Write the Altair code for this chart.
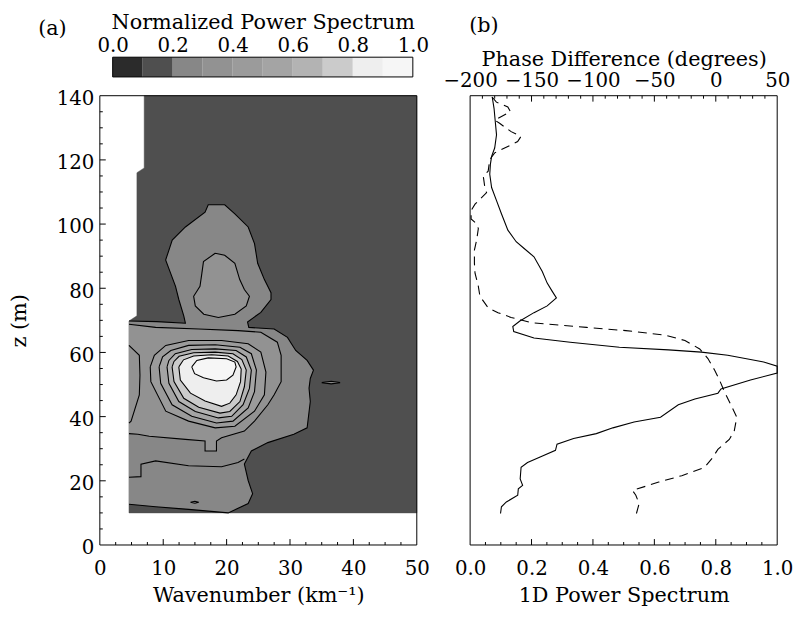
import altair as alt
import pandas as pd

FONT = "DejaVu Serif"
LFS = 20
TFS = 21
W_A, W_B, H, H_CB = 321, 311, 455, 20

# ---------------- colour bar ----------------
cb_lo = [0.0, 0.1, 0.2, 0.3, 0.4, 0.5, 0.6, 0.7, 0.8, 0.9]
cb_hi = [0.1, 0.2, 0.3, 0.4, 0.5, 0.6, 0.7, 0.8, 0.9, 1.0]
cb_grey = ["#2b2b2b", "#4f4f4f", "#878787", "#929292", "#9b9b9b",
           "#a4a4a4", "#b3b3b3", "#cbcbcb", "#eeeeee", "#f6f6f6"]
cb_ticks = [0.0, 0.2, 0.4, 0.6, 0.8, 1.0]

# ---------------- panel (a): contour regions (wavenumber k, height z) ----------------
dom_k = [7.0, 50.0, 50.0, 4.6, 4.6, 5.85, 5.85, 7.0]
dom_z = [140.0, 140.0, 10.0, 10.0, 69.8, 71.4, 116.0, 117.5]

c20_k = [4.6, 9.0, 13.5, 13.24, 12.46, 11.94, 11.16, 10.38, 10.9, 11.42, 13.5, 16.6, 17.1, 19.7,
         21.3, 23.4, 24.4, 24.9, 25.96, 27.0, 27.0, 25.4, 23.3, 23.5, 27.5, 29.6, 30.9, 32.7, 33.7,
         33.2, 33.0, 33.2, 32.7, 30.6, 26.5, 23.9, 22.8, 23.4, 24.1, 23.4, 20.25, 14.0, 8.8, 4.6]
c20_z = [69.8, 69.6, 69.1, 71.4, 76.5, 80.6, 84.7, 88.8, 91.9, 95.0, 99.1, 103.7, 106.0, 106.0,
         103.2, 99.1, 93.9, 87.8, 82.7, 78.6, 76.5, 72.5, 69.5, 67.8, 67.3, 64.7, 60.6, 57.5, 54.5,
         51.9, 48.8, 44.7, 36.5, 34.5, 31.9, 29.3, 25.2, 20.1, 16.0, 12.9, 10.0, 11.1, 11.9, 12.7]

c30_k = [4.6, 8.8, 15.6, 21.8, 25.4, 28.0, 28.6, 28.6, 27.5, 26.5, 24.4, 22.8, 19.2, 18.4, 18.4,
         16.6, 16.6, 13.5, 7.8, 6.0, 4.6]
c30_z = [68.8, 67.8, 67.3, 66.8, 66.3, 63.2, 59.1, 50.9, 46.8, 43.7, 38.6, 35.5, 33.4, 32.4, 29.3,
         29.3, 32.4, 32.9, 33.9, 34.5, 34.7]

c30u_k = [18.2, 19.7, 21.3, 22.07, 22.8, 23.6, 23.1, 21.3, 18.7, 16.4, 15.06, 14.8, 15.8, 16.1, 16.35]
c30u_z = [90.9, 90.3, 87.8, 82.7, 79.6, 77.5, 74.5, 71.9, 70.9, 71.9, 74.5, 77.5, 80.6, 84.7, 88.3]

c40_k = [7.95, 8.05, 10.4, 14.0, 18.2, 21.3, 24.4, 25.96, 26.2, 25.4, 23.4, 19.2, 14.0, 10.4, 8.6]
c40_z = [55.5, 50.9, 41.7, 38.6, 36.5, 37.0, 41.7, 46.8, 53.9, 60.1, 62.7, 63.7, 63.7, 62.2, 59.1]

c50_k = [9.35, 9.6, 11.4, 14.5, 18.4, 21.0, 23.4, 24.4, 24.7, 23.9, 22.1, 18.2, 14.0, 11.2, 9.9]
c50_z = [55.5, 50.4, 43.7, 40.1, 38.0, 38.6, 42.7, 47.8, 54.5, 59.6, 61.6, 62.4, 62.2, 60.6, 58.6]

c60_k = [10.6, 10.9, 12.46, 15.06, 18.7, 20.8, 22.6, 23.6, 23.9, 23.1, 21.5, 18.2, 14.5, 11.9, 10.9]
c60_z = [55.5, 50.4, 44.7, 41.6, 39.6, 40.1, 43.7, 48.8, 54.5, 58.6, 60.6, 61.1, 60.9, 59.6, 57.5]

c70_k = [11.4, 11.7, 13.24, 15.6, 18.95, 20.5, 22.1, 22.8, 23.1, 22.4, 21.0, 18.2, 14.8, 12.5, 11.7]
c70_z = [55.5, 50.9, 45.7, 42.9, 41.1, 41.6, 44.7, 49.3, 54.5, 57.8, 59.6, 60.1, 59.9, 58.8, 57.2]

c80_k = [12.46, 12.7, 14.3, 16.6, 19.2, 20.5, 21.5, 22.2, 22.3, 21.7, 20.25, 17.65, 14.8, 13.2]
c80_z = [55.5, 51.4, 47.3, 44.9, 43.2, 44.2, 46.8, 50.9, 54.8, 57.2, 58.9, 59.3, 58.9, 57.7]

c90_k = [14.5, 14.95, 16.35, 18.4, 20.0, 21.0, 21.5, 21.3, 20.0, 17.1, 15.3]
c90_z = [55.5, 53.4, 52.1, 51.1, 51.4, 52.9, 55.5, 57.0, 58.05, 58.3, 57.5]

ell_k = [35.0, 36.5, 37.9, 36.5]
ell_z = [50.6, 51.0, 50.6, 50.2]
isl_k = [14.3, 15.0, 15.6, 15.0]
isl_z = [13.3, 13.6, 13.3, 13.0]

low_k = [4.6, 6.49, 6.49, 8.8, 14.0, 19.2, 21.8, 22.8]
low_z = [21.1, 21.3, 25.2, 26.2, 24.7, 24.4, 25.7, 26.8]
bump_k = [4.6, 6.23, 6.33, 6.23, 4.93, 4.6]
bump_z = [62.2, 59.1, 52.9, 46.8, 38.6, 38.0]

# ---------------- panel (b) ----------------
pw_z = [139.6, 136.0, 131.9, 127.8, 123.7, 121.1, 118.6, 115.5, 111.4, 107.3, 103.2, 98.1, 94.5,
        92.4, 89.8, 85.2, 81.6, 79.1, 77.0, 74.5, 72.4, 69.8, 68.1, 66.5, 64.5, 63.2, 61.6, 60.8,
        60.1, 59.1, 57.8, 57.0, 55.7, 53.6, 51.4, 48.6, 47.3, 45.5, 43.7, 39.8, 38.3, 36.5, 34.7,
        33.2, 31.4, 29.5, 27.5, 25.7, 24.2, 20.6, 18.6, 17.5, 15.5, 13.4, 11.9, 9.8]
pw_v = [0.072, 0.078, 0.082, 0.086, 0.080, 0.070, 0.066, 0.064, 0.070, 0.086, 0.102, 0.123, 0.150,
        0.176, 0.208, 0.235, 0.251, 0.267, 0.281, 0.251, 0.208, 0.162, 0.139, 0.142, 0.208, 0.326,
        0.486, 0.646, 0.753, 0.839, 0.913, 0.956, 1.0, 1.0, 0.913, 0.817, 0.807, 0.732, 0.678,
        0.620, 0.534, 0.465, 0.411, 0.337, 0.283, 0.278, 0.230, 0.187, 0.166, 0.163, 0.171, 0.157,
        0.155, 0.118, 0.102, 0.099]

ph_z = [139.6, 138.0, 136.5, 135.0, 132.4, 131.4, 128.8, 127.3, 125.7, 124.2, 122.2, 120.1, 116.5,
        115.0, 111.4, 109.8, 106.2, 104.2, 101.6, 100.1, 98.6, 95.0, 91.9, 87.8, 84.7, 80.6, 77.5,
        73.9, 72.4, 70.9, 69.3, 67.8, 66.8, 65.4, 63.7, 61.1, 58.1, 54.5, 51.4, 47.8, 43.7, 39.8,
        35.5, 32.9, 29.8, 27.3, 24.2, 21.6, 19.6, 18.3, 17.0, 15.5, 12.9, 9.8]
ph_v = [-182.1, -178.6, -169.3, -167.1, -180.0, -176.0, -166.6, -158.6, -161.3, -169.3, -180.0,
        -184.0, -185.3, -189.3, -188.0, -186.6, -196.0, -199.2, -199.2, -194.7, -193.3, -194.7,
        -196.5, -196.5, -196.0, -193.3, -192.0, -185.3, -177.3, -166.6, -150.6, -105.2, -73.2,
        -41.1, -25.1, -13.1, -6.4, -1.0, 3.0, 7.0, 12.3, 17.1, 15.0, 11.0, 1.7, -2.4, -9.1, -27.7,
        -46.4, -57.1, -67.8, -65.1, -62.4, -64.6]

# ---------------- tick values ----------------
ka_major = [0, 10, 20, 30, 40, 50]
ka_in_major = [10, 20, 30, 40]
ka_minor = [2.5, 5, 7.5, 12.5, 15, 17.5, 22.5, 25, 27.5, 32.5, 35, 37.5, 42.5, 45, 47.5]
z_major = [0, 20, 40, 60, 80, 100, 120, 140]
z_in_major = [20, 40, 60, 80, 100, 120]
z_minor = [5, 10, 15, 25, 30, 35, 45, 50, 55, 65, 70, 75, 85, 90, 95, 105, 110, 115, 125, 130, 135]
p_major = [0.0, 0.2, 0.4, 0.6, 0.8, 1.0]
p_in_major = [0.2, 0.4, 0.6, 0.8]
p_minor = [0.05, 0.1, 0.15, 0.25, 0.3, 0.35, 0.45, 0.5, 0.55, 0.65, 0.7, 0.75, 0.85, 0.9, 0.95]
ph_major = [-200, -150, -100, -50, 0, 50]
ph_in_major = [-150, -100, -50, 0]
ph_minor = [-190, -180, -170, -160, -140, -130, -120, -110, -90, -80, -70, -60, -40, -30, -20, -10,
            10, 20, 30, 40]

MAJ, MIN = 6, 3          # tick lengths in pixels
Z_PX = H / 140.0         # pixels per metre
K_PX = W_A / 50.0        # pixels per wavenumber unit


def poly(ks, zs, closed=True):
    if closed:
        ks = ks + ks[:1]
        zs = zs + zs[:1]
    return pd.DataFrame({"k": ks, "z": zs, "i": list(range(len(ks)))})


one = pd.DataFrame({"v": [0]})

sx = alt.Scale(domain=[0, 50], nice=False, zero=False)
sz = alt.Scale(domain=[0, 140], nice=False, zero=False)


def ticks_x(values, scale, size, top=False):
    base = 140.0 if top else 0.0
    tip = base - size / Z_PX if top else base + size / Z_PX
    return alt.Chart(pd.DataFrame({"t": values})).mark_rule(color="black", strokeWidth=1).encode(
        x=alt.X("t:Q", scale=scale, axis=None),
        y=alt.YDatum(base, scale=sz, axis=None), y2=alt.Y2Datum(tip))


def ticks_y(values, size):
    return alt.Chart(pd.DataFrame({"t": values})).mark_rule(color="black", strokeWidth=1).encode(
        y=alt.Y("t:Q", scale=sz, axis=None),
        x=alt.XDatum(0.0, scale=sx, axis=None), x2=alt.X2Datum(size / K_PX))


ax_ka_lab = alt.Axis(values=ka_major, ticks=False, tickSize=0, domain=False, grid=False,
                     labelPadding=14, labelFlush=False, labelOverlap=False,
                     title="Wavenumber (km⁻¹)", titlePadding=6)
ax_z_lab = alt.Axis(values=z_major, ticks=False, tickSize=0, domain=False, grid=False,
                    labelPadding=6, labelFlush=False, labelOverlap=False, labelOffset=3,
                    title="z (m)", titlePadding=27)


def layer(df, mark, xaxis=None, yaxis=None):
    return alt.Chart(df).mark_line(**mark).encode(
        x=alt.X("k:Q", scale=sx, axis=xaxis),
        y=alt.Y("z:Q", scale=sz, axis=yaxis),
        order=alt.Order("i:Q"),
    )


def filled(level):
    return dict(fill=cb_grey[level], stroke="black", strokeWidth=1.1)


layers_a = [
    ticks_x(ka_in_major, sx, MAJ),
    ticks_x(ka_minor, sx, MIN),
    ticks_y(z_in_major, MAJ),
    ticks_y(z_minor, MIN),
    layer(poly(dom_k, dom_z), dict(fill=cb_grey[1], stroke=cb_grey[1], strokeWidth=0.5),
          ax_ka_lab, ax_z_lab),
    layer(poly(c20_k, c20_z, closed=False), filled(2)),
    layer(poly(c30_k, c30_z, closed=False), filled(3)),
    layer(poly(ell_k, ell_z), filled(2)),
    layer(poly(isl_k, isl_z), filled(3)),
    layer(poly(c30u_k, c30u_z), filled(3)),
    layer(poly(c40_k, c40_z), filled(4)),
    layer(poly(c50_k, c50_z), filled(5)),
    layer(poly(c60_k, c60_z), filled(6)),
    layer(poly(c70_k, c70_z), filled(7)),
    layer(poly(c80_k, c80_z), filled(8)),
    layer(poly(c90_k, c90_z), filled(9)),
    layer(poly(low_k, low_z, closed=False), dict(stroke="black", strokeWidth=1.1)),
    layer(poly(bump_k, bump_z, closed=False), dict(stroke="black", strokeWidth=1.1)),
    alt.Chart(one).mark_rect(filled=False, stroke="black", strokeWidth=1).encode(
        x=alt.XDatum(0, scale=sx, axis=None), x2=alt.X2Datum(50),
        y=alt.YDatum(0, scale=sz, axis=None), y2=alt.Y2Datum(140)),
]
panel_a = alt.layer(*layers_a).resolve_axis(x="independent", y="independent").properties(
    width=W_A, height=H)

# colour bar chart
cb_df = pd.DataFrame({"lo": cb_lo, "hi": cb_hi, "g": cb_grey})
scb = alt.Scale(domain=[0, 1], range=[13, 317], nice=False, zero=False)
ax_cb = alt.Axis(orient="top", values=cb_ticks, format=".1f", ticks=False, tickSize=0, domain=False,
                 grid=False, labelPadding=2, labelFlush=False, labelOverlap=False,
                 title="Normalized Power Spectrum", titlePadding=3)
cb_bars = alt.Chart(cb_df).mark_rect().encode(
    x=alt.X("lo:Q", scale=scb, axis=ax_cb), x2="hi:Q", color=alt.Color("g:N", scale=None))
cb_frame = alt.Chart(one).mark_rect(filled=False, stroke="black", strokeWidth=1).encode(
    x=alt.XDatum(0, scale=scb, axis=None), x2=alt.X2Datum(1))
lab_a = alt.Chart(one).mark_text(text="(a)", font=FONT, fontSize=TFS, baseline="middle",
                                 align="center", color="black").encode(
    x=alt.value(-48), y=alt.value(-28))
cb_chart = alt.layer(cb_bars, cb_frame, lab_a).resolve_axis(x="independent").properties(
    width=W_A, height=H_CB)

spacer = alt.Chart(one).mark_point(opacity=0).encode(x=alt.value(0), y=alt.value(0)).properties(
    width=W_B, height=H_CB)

# panel (b)
sp = alt.Scale(domain=[0, 1], nice=False, zero=False)
sph = alt.Scale(domain=[-200, 50], nice=False, zero=False)
ax_p_lab = alt.Axis(values=p_major, format=".1f", ticks=False, tickSize=0, domain=False, grid=False,
                    labelPadding=14, labelFlush=False, labelOverlap=False,
                    title="1D Power Spectrum", titlePadding=6)
ax_ph_lab = alt.Axis(orient="top", values=ph_major, ticks=False, tickSize=0, domain=False, grid=False,
                     labelPadding=5, labelFlush=False, labelOverlap=False,
                     title="Phase Difference (degrees)", titlePadding=2)

pw_df = pd.DataFrame({"z": pw_z, "p": pw_v, "i": list(range(len(pw_z)))})
ph_df = pd.DataFrame({"z": ph_z, "ph": ph_v, "i": list(range(len(ph_z)))})

pw = alt.Chart(pw_df).mark_line(color="black", strokeWidth=1.1).encode(
    x=alt.X("p:Q", scale=sp, axis=ax_p_lab), y=alt.Y("z:Q", scale=sz, axis=None), order="i:Q")
ph = alt.Chart(ph_df).mark_line(color="black", strokeWidth=1.1, strokeDash=[9, 6]).encode(
    x=alt.X("ph:Q", scale=sph, axis=ax_ph_lab), y=alt.Y("z:Q", scale=sz, axis=None), order="i:Q")
frame_b = alt.Chart(one).mark_rect(filled=False, stroke="black", strokeWidth=1).encode(
    x=alt.XDatum(0, scale=sp, axis=None), x2=alt.X2Datum(1),
    y=alt.YDatum(0, scale=sz, axis=None), y2=alt.Y2Datum(140))
lab_b = alt.Chart(one).mark_text(text="(b)", font=FONT, fontSize=TFS, baseline="middle",
                                 align="center", color="black").encode(
    x=alt.value(14), y=alt.value(-71))
panel_b = alt.layer(
    ticks_x(p_in_major, sp, MAJ), ticks_x(p_minor, sp, MIN),
    ticks_x(ph_in_major, sph, MAJ, top=True), ticks_x(ph_minor, sph, MIN, top=True),
    pw, ph, frame_b, lab_b,
).resolve_scale(x="independent").properties(width=W_B, height=H)

chart = alt.concat(
    cb_chart, spacer, panel_a, panel_b,
    columns=2, spacing=alt.RowColnumber(row=19, column=54), bounds="flush", align="each",
).properties(
    padding={"left": 0, "top": 0, "right": 0, "bottom": 0}
).configure_view(strokeWidth=0).configure_axis(
    labelFont=FONT, titleFont=FONT, labelFontSize=LFS, titleFontSize=TFS,
    labelColor="black", titleColor="black", titleFontWeight="normal",
)

chart.save("out.html", embed_options={"renderer": "svg", "actions": False})
